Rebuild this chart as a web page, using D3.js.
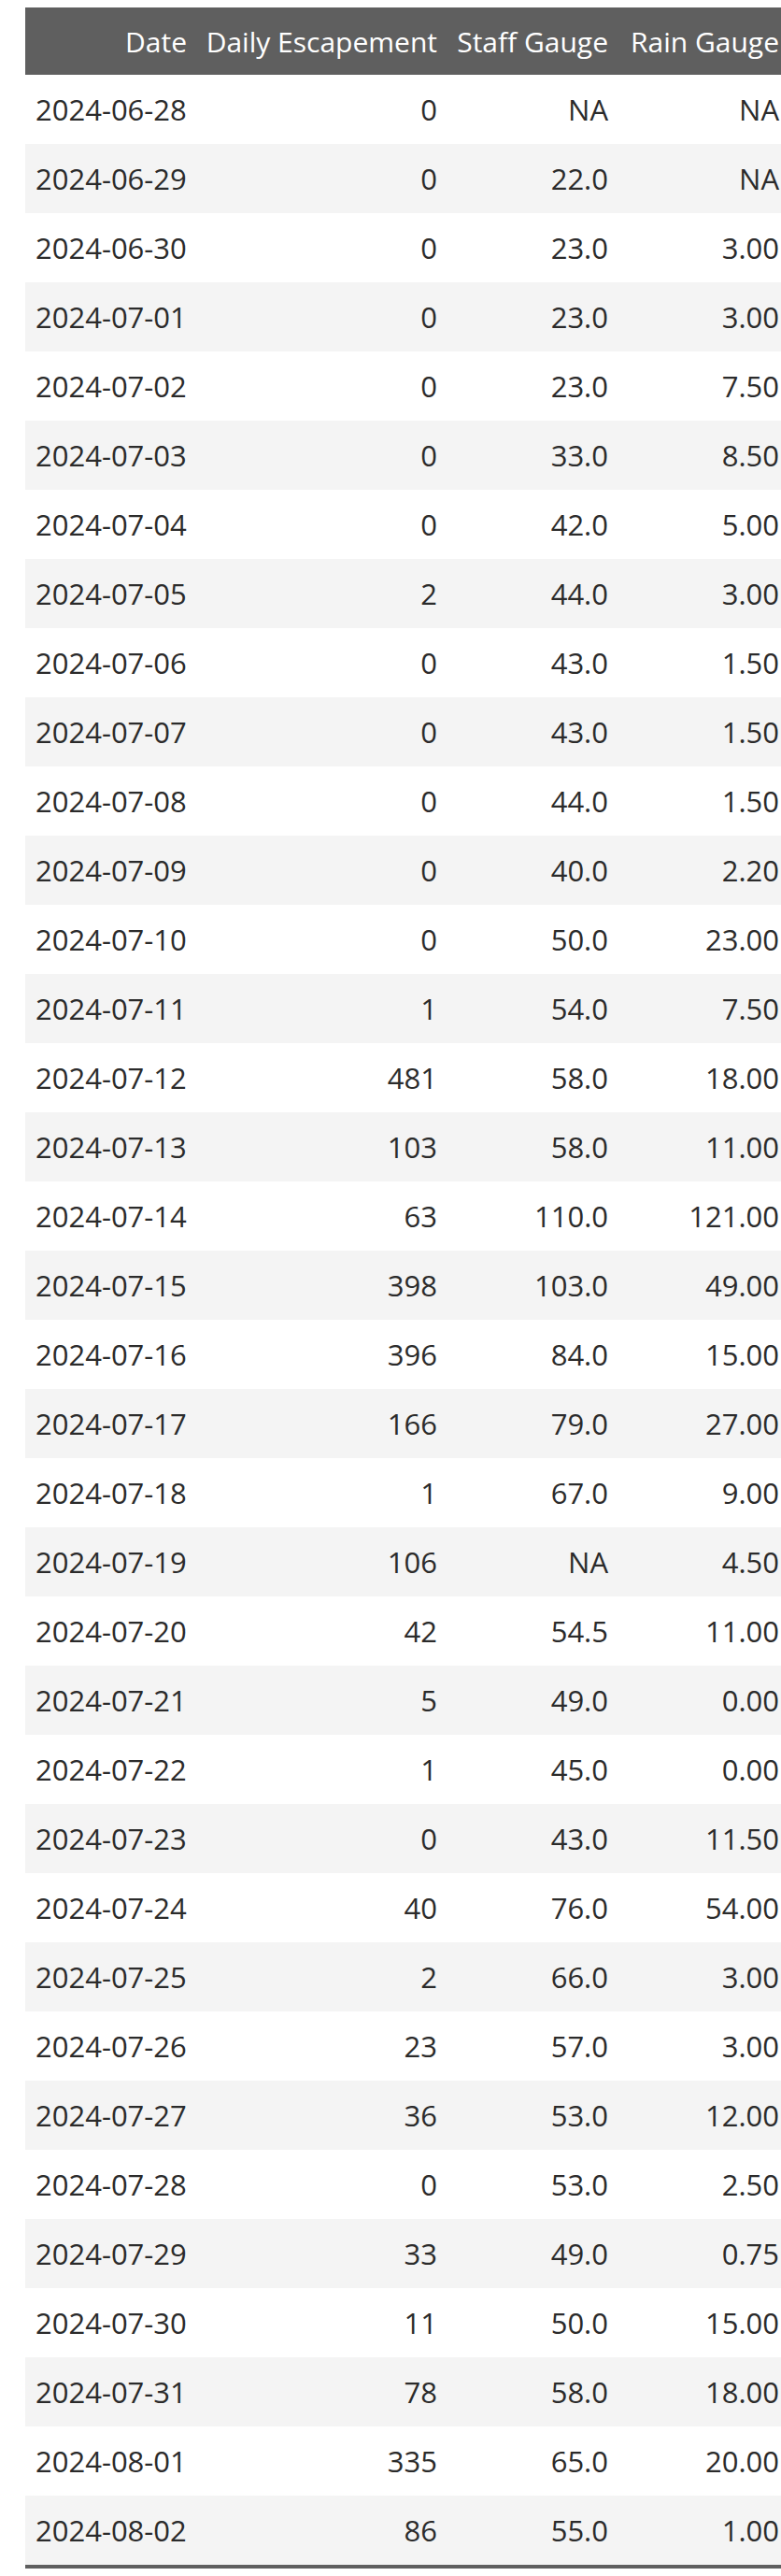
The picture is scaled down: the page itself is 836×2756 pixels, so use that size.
<!DOCTYPE html>
<html>
<head>
<meta charset="utf-8">
<script src="https://cdn.jsdelivr.net/npm/d3@7"></script>
<style>
  body { margin: 0; background: #fff; }
  svg text { font-family: "Open Sans", "Noto Sans", sans-serif; font-size: 30px; }
  svg g.row text { font-size: 31px; }
</style>
</head>
<body>
<div id="chart"></div>
<script>
// table data
var columns = ["Date", "Daily Escapement", "Staff Gauge", "Rain Gauge"];

var dates = ["2024-06-28", "2024-06-29", "2024-06-30", "2024-07-01", "2024-07-02", "2024-07-03",
  "2024-07-04", "2024-07-05", "2024-07-06", "2024-07-07", "2024-07-08", "2024-07-09",
  "2024-07-10", "2024-07-11", "2024-07-12", "2024-07-13", "2024-07-14", "2024-07-15",
  "2024-07-16", "2024-07-17", "2024-07-18", "2024-07-19", "2024-07-20", "2024-07-21",
  "2024-07-22", "2024-07-23", "2024-07-24", "2024-07-25", "2024-07-26", "2024-07-27",
  "2024-07-28", "2024-07-29", "2024-07-30", "2024-07-31", "2024-08-01", "2024-08-02"];

var escapement = [0, 0, 0, 0, 0, 0, 0, 2, 0, 0, 0, 0, 0, 1, 481, 103, 63, 398,
  396, 166, 1, 106, 42, 5, 1, 0, 40, 2, 23, 36, 0, 33, 11, 78, 335, 86];

var staffGauge = [null, 22, 23, 23, 23, 33, 42, 44, 43, 43, 44, 40, 50, 54, 58, 58, 110, 103,
  84, 79, 67, null, 54.5, 49, 45, 43, 76, 66, 57, 53, 53, 49, 50, 58, 65, 55];

var rainGauge = [null, null, 3, 3, 7.5, 8.5, 5, 3, 1.5, 1.5, 1.5, 2.2, 23, 7.5, 18, 11, 121, 49,
  15, 27, 9, 4.5, 11, 0, 0, 11.5, 54, 3, 3, 12, 2.5, 0.75, 15, 18, 20, 1];

var width = 836;
var height = 2756;
var left = 27, right = 845;
var headTop = 8, headBottom = 80;
var tableBottom = 2744;

var rows = dates.map(function(d, i) {
  return {date: d, esc: escapement[i], staff: staffGauge[i], rain: rainGauge[i]};
});

function fmt(f) {
  return function(v) { return v == null ? "NA" : f(v); };
}

// column x = right edge of text (date values start at left)
var colX = d3.scaleOrdinal().domain(columns).range([200, 468, 651, 834]);

var cells = [
  {key: "date", col: "Date", f: function(v) { return v; }},
  {key: "esc", col: "Daily Escapement", f: fmt(d3.format("d"))},
  {key: "staff", col: "Staff Gauge", f: fmt(d3.format(".1f"))},
  {key: "rain", col: "Rain Gauge", f: fmt(d3.format(".2f"))}
];

var y = d3.scaleBand().domain(dates).range([headBottom, tableBottom]);

var svg = d3.select("#chart")
  .append("svg")
  .attr("width", width)
  .attr("height", height);

// header
svg.append("rect")
  .attr("x", left)
  .attr("y", headTop)
  .attr("width", right - left)
  .attr("height", headBottom - headTop)
  .attr("fill", "#5f5f5f");

svg.selectAll("text.head")
  .data(columns)
  .enter()
  .append("text")
  .attr("class", "head")
  .attr("x", function(d) { return colX(d); })
  .attr("y", (headTop + headBottom) / 2 + 12)
  .attr("text-anchor", "end")
  .attr("fill", "#ffffff")
  .text(function(d) { return d; });

// striped rows
svg.selectAll("rect.stripe")
  .data(rows.filter(function(d, i) { return i % 2 === 1; }))
  .enter()
  .append("rect")
  .attr("class", "stripe")
  .attr("x", left)
  .attr("y", function(d) { return y(d.date); })
  .attr("width", right - left)
  .attr("height", y.bandwidth())
  .attr("fill", "#f4f4f4");

var rowG = svg.selectAll("g.row")
  .data(rows)
  .enter()
  .append("g")
  .attr("class", "row")
  .attr("transform", function(d) { return "translate(0," + (y(d.date) + y.bandwidth() / 2 + 12) + ")"; });

rowG.selectAll("text")
  .data(function(d) { return cells.map(function(c) { return {c: c, v: d[c.key]}; }); })
  .enter()
  .append("text")
  .attr("x", function(d) { return d.c.key === "date" ? 38 : colX(d.c.col); })
  .attr("text-anchor", function(d) { return d.c.key === "date" ? "start" : "end"; })
  .attr("fill", "#2b2b2b")
  .text(function(d) { return d.c.f(d.v); });

// bottom rule
svg.append("rect")
  .attr("x", left)
  .attr("y", tableBottom)
  .attr("width", right - left)
  .attr("height", 4)
  .attr("fill", "#5f5f5f");
</script>
</body>
</html>
